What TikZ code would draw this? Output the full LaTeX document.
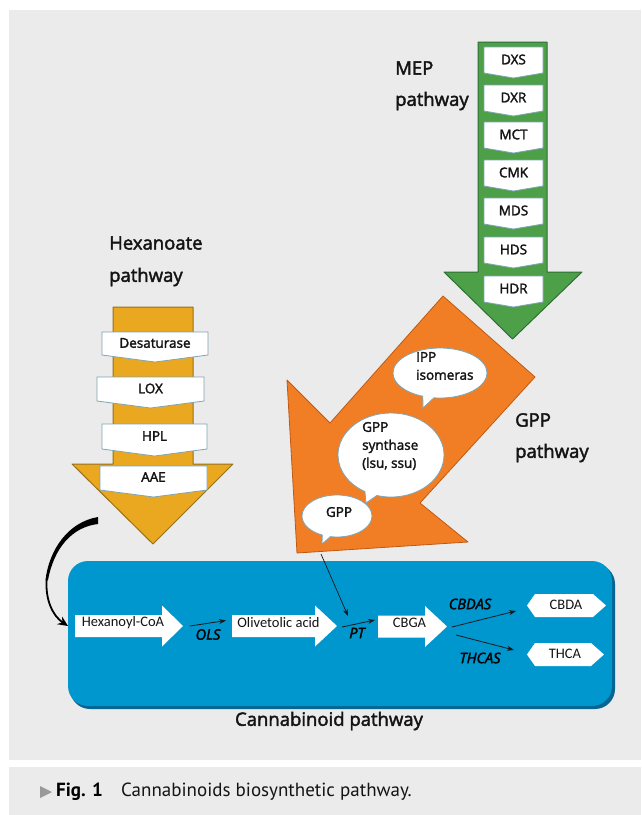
\documentclass[tikz,border=0pt]{standalone}
\usepackage{fontspec}
\setmainfont{Open Sans}
\newfontfamily\semi[FakeBold=2.2]{Open Sans}
\newfontfamily\carlito{Carlito}
\newfontfamily\ptsans{PT Sans}
\usetikzlibrary{shapes.callouts,shapes.symbols,arrows.meta}
\definecolor{bggray}{RGB}{235,235,235}
\definecolor{mepgreen}{RGB}{78,160,72}
\definecolor{mepdark}{RGB}{44,110,52}
\definecolor{hexgold}{RGB}{233,168,32}
\definecolor{hexdark}{RGB}{150,112,30}
\definecolor{gpporange}{RGB}{241,126,36}
\definecolor{gppdark}{RGB}{190,90,20}
\definecolor{cblue}{RGB}{0,150,206}
\definecolor{cbluedark}{RGB}{8,100,145}
\definecolor{boxedge}{RGB}{125,165,180}
\definecolor{txt}{RGB}{20,20,20}
\tikzset{
  stepbox/.style={draw=boxedge, fill=white, line width=0.8pt},
  steplabel/.style={font=\semi\fontsize{13.5}{15}\selectfont, text=txt, inner sep=0pt},
  pathlabel/.style={font=\semi\fontsize{18.5}{22}\selectfont, text=txt, anchor=west, inner sep=0pt},
  bubble/.style={ellipse callout, draw=boxedge, fill=white, line width=0.8pt, callout pointer arc=14},
  bubbletext/.style={font=\semi\fontsize{13.5}{18}\selectfont, text=txt, align=left, inner sep=0pt},
  whitearrow/.style={fill=white, draw=none},
  bluetext/.style={font=\carlito\fontsize{14.5}{16}\selectfont, text=txt, inner sep=0pt},
  enzyme/.style={font=\semi\fontsize{14.5}{16}\selectfont\itshape, text=black, inner sep=0pt},
  smallarrow/.style={draw=black!90, line width=0.8pt, -{Stealth[length=7pt,width=5pt]}},
}
\begin{document}
\begin{tikzpicture}[x=1pt,y=-1pt]
\useasboundingbox (0,0) rectangle (641,815);
\fill[white] (0,0) rectangle (641,815);
% panels
\fill[bggray] (9,10) rectangle (641,760);
\fill[bggray] (9,767) rectangle (641,815);

% ---------------- MEP pathway (green) ----------------
\draw[fill=mepgreen, draw=mepdark, line width=1pt, line join=round]
  (478,42) -- (547,42) -- (547,272) -- (582,272) -- (512.5,339) -- (444,272) -- (478,272) -- cycle;
\foreach \t/\y [count=\i] in {DXS/47,DXR/85,MCT/122,CMK/160,MDS/198,HDS/237,HDR/276} {
  \draw[stepbox] (484,\y) -- (543,\y) -- (543,\y+26) -- (513.5,\y+31) -- (484,\y+26) -- cycle;
  \node[steplabel] (mep\i) at (513.5,\y+12.5) {\t};
}
\node[pathlabel] (meplab1) at (395,68) {MEP};
\node[pathlabel] (meplab2) at (395,101) {pathway};

% ---------------- Hexanoate pathway (gold) ----------------
\draw[fill=hexgold, draw=hexdark, line width=1pt, line join=round]
  (113,307) -- (193,307) -- (193,464) -- (233,464) -- (153,544) -- (72,464) -- (113,464) -- cycle;
\draw[stepbox] (102,332) -- (208,332) -- (208,355) -- (155,362) -- (102,355) -- cycle;
\node[steplabel] (hx1) at (155,343) {Desaturase};
\draw[stepbox] (97,377) -- (204,377) -- (204,401) -- (150.5,408) -- (97,401) -- cycle;
\node[steplabel] (hx2) at (150.5,388.5) {LOX};
\draw[stepbox] (102,424) -- (207,424) -- (207,449) -- (154.5,456) -- (102,449) -- cycle;
\node[steplabel] (hx3) at (154.5,436) {HPL};
\draw[stepbox] (100,466) -- (207,466) -- (207,490) -- (153.5,497) -- (100,490) -- cycle;
\node[steplabel] (hx4) at (153.5,477) {AAE};
\node[pathlabel] (hexlab1) at (109,243) {Hexanoate};
\node[pathlabel] (hexlab2) at (109,277) {pathway};

% ---------------- GPP pathway (orange) ----------------
\draw[fill=gpporange, draw=gppdark, line width=0.8pt, line join=round]
  (443,296) -- (535,377) -- (420,503) -- (468,542) -- (297,553) -- (287,380) -- (330,423) -- cycle;
\node[bubble, minimum width=94pt, minimum height=50pt, callout absolute pointer={(423,408)}] (ipp) at (440,373) {};
\node[bubbletext, anchor=west] (ipptext) at (416,366) {IPP\\isomeras};
\node[bubble, minimum width=106pt, minimum height=84pt, callout absolute pointer={(366,503)}] (gpps) at (391,455) {};
\node[bubbletext, anchor=west] (gppstext) at (362,446) {GPP\\synthase\\(lsu, ssu)};
\node[bubble, minimum width=70pt, minimum height=42pt, callout absolute pointer={(322,544)}] (gpp) at (337,516) {};
\node[bubbletext] (gpptext) at (339,512) {GPP};
\node[pathlabel] (gpplab1) at (515,420) {GPP};
\node[pathlabel] (gpplab2) at (515,453) {pathway};

% ---------------- Cannabinoid pathway (blue) ----------------
\fill[cbluedark, rounded corners=20pt] (70,564) rectangle (615,709);
\fill[cblue, rounded corners=20pt] (68,561) rectangle (612,706);
\node[font=\semi\fontsize{18.5}{22}\selectfont, text=txt] (cannlab) at (329,721) {Cannabinoid pathway};

% white block arrows
\fill[whitearrow] (75,615) -- (162,615) -- (162,605.5) -- (183,626) -- (162,646.5) -- (162,637) -- (75,637) -- cycle;
\node[bluetext] (hexcoa) at (123,623) {Hexanoyl-CoA};
\fill[whitearrow] (232,615) -- (315,615) -- (315,605.5) -- (337,626) -- (315,646.5) -- (315,637) -- (232,637) -- cycle;
\node[bluetext] (oliv) at (278.5,623) {Olivetolic acid};
\fill[whitearrow] (378,615.5) -- (425,615.5) -- (425,606) -- (447,626.5) -- (425,647) -- (425,637.5) -- (378,637.5) -- cycle;
\node[bluetext] (cbga) at (409.5,623) {CBGA};
% hexagons
\fill[white] (527,605.5) -- (535,594) -- (593,594) -- (606,605.5) -- (593,617) -- (535,617) -- cycle;
\node[bluetext] (cbda) at (566,605) {CBDA};
\fill[white] (527,654.5) -- (535,643) -- (591,643) -- (604,654.5) -- (591,666) -- (535,666) -- cycle;
\node[bluetext] (thca) at (565,653.5) {THCA};

% reaction arrows
\coordinate (ols1) at (190,626);
\coordinate (ols2) at (226,620.5);
\draw[smallarrow] (ols1) -- (ols2);
\node[enzyme] (olslab) at (208,634.5) {OLS};
\coordinate (pt1) at (342,627);
\coordinate (pt2) at (375,620);
\draw[smallarrow] (pt1) -- (pt2);
\node[enzyme] (ptlab) at (357,633) {PT};
\coordinate (gppline) at (321,554);
\coordinate (gppend) at (348,616);
\draw[smallarrow, line width=0.7pt] (gppline) -- (gppend);
\coordinate (cb1) at (452,627);
\coordinate (cb2) at (516,611);
\draw[smallarrow] (cb1) -- (cb2);
\node[enzyme] (cbdaslab) at (470,604) {CBDAS};
\coordinate (th1) at (456,635);
\coordinate (th2) at (514,650);
\draw[smallarrow] (th1) -- (th2);
\node[enzyme] (thcaslab) at (480,658) {THCAS};

% curved arrow from hexanoate to cannabinoid box
\coordinate (cstart) at (98,524);
\coordinate (cend) at (68,626);
\fill[black] (cstart) .. controls (72,527) and (54,548) .. (48,580)
  -- (45.5,580) .. controls (49,550) and (68,522) .. (98,517) -- cycle;
\draw[line width=1.8pt, black, -{Stealth[length=10pt,width=9pt]}]
  (46.7,579) .. controls (45,600) and (53,616) .. (cend);

% ---------------- caption ----------------
\fill[gray!80] (40,786) -- (52,792) -- (40,798) -- cycle;
\node[font=\ptsans\bfseries\fontsize{19}{22}\selectfont, anchor=west, inner sep=0pt, text=black] (fig) at (56,792) {Fig. 1};
\node[font=\ptsans\fontsize{19}{22}\selectfont, anchor=west, inner sep=0pt, text=txt] (caption) at (121,792) {Cannabinoids biosynthetic pathway.};
\end{tikzpicture}
\end{document}
